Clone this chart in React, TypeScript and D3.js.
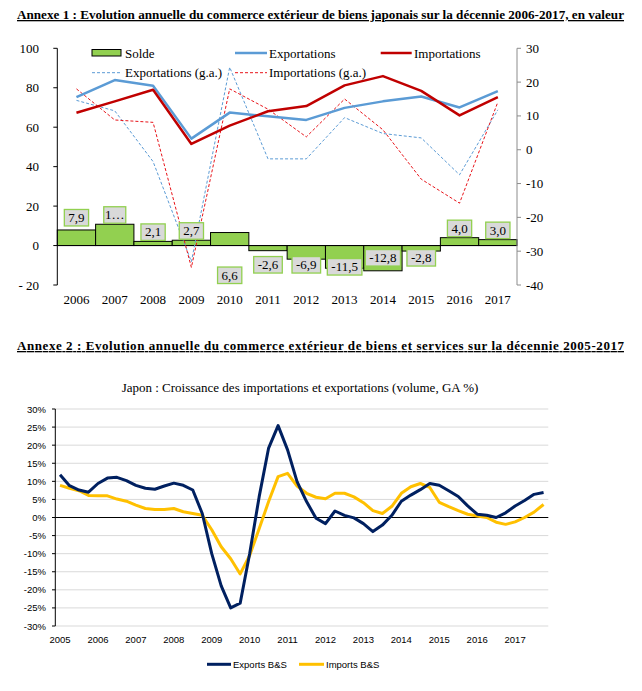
import React from "react";
import * as d3 from "d3";

// ---------- Annexe 1 data ----------
const years1 = ["2006","2007","2008","2009","2010","2011","2012","2013","2014","2015","2016","2017"];
const solde = [7.9, 10.8, 2.1, 2.7, 6.6, -2.6, -6.9, -11.5, -12.8, -2.8, 4.0, 3.0];
const soldeLabels = ["7,9","1…","2,1","2,7","6,6","-2,6","-6,9","-11,5","-12,8","-2,8","4,0","3,0"];
const exportations = [75.2, 83.9, 81.0, 54.2, 67.4, 65.5, 63.7, 69.8, 73.1, 75.6, 70.0, 78.3];
const importations = [67.3, 73.1, 79.0, 51.5, 60.8, 68.1, 70.7, 81.2, 85.9, 78.4, 66.0, 75.3];
const exportationsGA = [14.6, 11.5, -3.5, -33.1, 24.4, -2.7, -2.7, 9.5, 4.8, 3.5, -7.4, 11.8];
const importationsGA = [18.0, 8.8, 8.1, -34.8, 18.0, 12.0, 3.8, 15.0, 5.9, -8.7, -15.8, 14.1];
const leftTicks = [100, 80, 60, 40, 20, 0, -20];
const leftTickLabels = ["100","80","60","40","20","0","- 20"];
const rightTicks = [30, 20, 10, 0, -10, -20, -30, -40];

// ---------- Annexe 2 data ----------
const years2 = ["2005","2006","2007","2008","2009","2010","2011","2012","2013","2014","2015","2016","2017"];
const quarters = years2.flatMap((y) => ["T1","T2","T3","T4"].map((q) => y + q));
const exportsBS = [
  11.8, 8.8, 7.6, 7.0,
  9.4, 10.9, 11.1, 10.2,
  8.9, 8.1, 7.8, 8.7,
  9.5, 8.9, 7.6, 1.1,
  -10.0, -18.9, -25.0, -23.7,
  -10.0, 5.7, 19.2, 25.4,
  18.7, 9.9, 4.4, -0.2,
  -1.7, 1.8, 0.6, -0.1,
  -1.7, -3.9, -2.1, 0.6,
  4.5, 6.2, 7.7, 9.4,
  8.9, 7.4, 5.8, 3.2,
  0.9, 0.6, 0.0, 1.3,
  3.2, 4.7, 6.4, 6.9,
];
const importsBS = [
  8.9, 8.1, 7.4, 6.1,
  6.0, 6.0, 5.1, 4.5,
  3.4, 2.5, 2.2, 2.2,
  2.5, 1.6, 1.1, 0.6,
  -3.4, -8.1, -11.4, -15.6,
  -10.5, -3.1, 4.4, 11.3,
  12.2, 8.7, 6.7, 5.6,
  5.2, 6.7, 6.7, 5.7,
  4.1, 1.9, 1.1, 3.1,
  6.7, 8.5, 9.4, 8.3,
  4.2, 3.0, 1.9, 0.9,
  0.4, 0.0, -1.3, -1.9,
  -1.2, 0.0, 1.5, 3.6,
];
const pctTicks = [30, 25, 20, 15, 10, 5, 0, -5, -10, -15, -20, -25, -30];

// ---------- layout ----------
const SERIF = "Liberation Serif, Times New Roman, Times, serif";
const SANS = "Liberation Sans, Arial, sans-serif";
const LABEL_NUDGE = [-3, 0, 0, 0, 52, 0, 0, 2, -7, -7, 0, 0];

function measure(text: string, font: string): number {
  try {
    const c = document.createElement("canvas");
    const ctx = c.getContext("2d");
    if (ctx) { ctx.font = font; return ctx.measureText(text).width; }
  } catch (e) {}
  return text.length * 6.5;
}

export default function App() {
  const x1 = d3.scaleBand<string>().domain(years1).range([57.3, 517]).padding(0);
  const yL = d3.scaleLinear().domain([-20, 100]).range([285, 48.3]);
  const yR = d3.scaleLinear().domain([-40, 30]).range([285, 48.3]);
  const cx1 = (i: number) => (x1(years1[i]) as number) + x1.bandwidth() / 2;
  const lineL = d3.line<number>().x((_, i) => cx1(i)).y((d) => yL(d));
  const lineR = d3.line<number>().x((_, i) => cx1(i)).y((d) => yR(d));

  const x2 = d3.scaleBand<string>().domain(quarters).range([55.3, 548.3]).padding(0);
  const y2 = d3.scaleLinear().domain([-30, 30]).range([626, 409]);
  const cx2 = (i: number) => (x2(quarters[i]) as number) + x2.bandwidth() / 2;
  const line2 = d3.line<number>().x((_, i) => cx2(i)).y((d) => y2(d));

  const y0 = yL(0);

  return (
    <svg width={642} height={691} style={{ position: "absolute", left: 0, top: 0, background: "#fff" }}
      xmlns="http://www.w3.org/2000/svg">
      <rect x={0} y={0} width={642} height={691} fill="#fff" />
      <text x={17} y={19} fontFamily={SERIF} fontWeight="bold" fontSize={13} textLength={607}
        lengthAdjust="spacingAndGlyphs" textDecoration="underline">
        Annexe 1 : Evolution annuelle du commerce extérieur de biens japonais sur la décennie 2006-2017, en valeur
      </text>

      {solde.map((v, i) => (
        <rect key={"b" + i} x={x1(years1[i]) as number} width={x1.bandwidth()}
          y={Math.min(yL(v), y0)} height={Math.abs(yL(v) - y0)}
          fill="#92D050" stroke="#000" strokeWidth={1} />
      ))}
      <line x1={57.3} x2={517} y1={y0} y2={y0} stroke="#000" strokeWidth={1} />

      <line x1={57.3} x2={57.3} y1={48.3} y2={285} stroke="#000" strokeWidth={1} />
      {leftTicks.map((t, i) => (
        <g key={"lt" + i}>
          <line x1={53.3} x2={57.3} y1={yL(t)} y2={yL(t)} stroke="#000" />
          <text x={39} y={yL(t) + 4.5} textAnchor="end" fontFamily={SERIF} fontSize={13}>{leftTickLabels[i]}</text>
        </g>
      ))}
      <line x1={517} x2={517} y1={48.3} y2={285} stroke="#8c8c8c" strokeWidth={1} />
      {rightTicks.map((t, i) => (
        <g key={"rt" + i}>
          <line x1={517} x2={521} y1={yR(t)} y2={yR(t)} stroke="#8c8c8c" />
          <text x={526} y={yR(t) + 4.5} fontFamily={SERIF} fontSize={13}>{String(t)}</text>
        </g>
      ))}
      {years1.map((y, i) => (
        <text key={"yl" + i} x={cx1(i)} y={304} textAnchor="middle" fontFamily={SERIF} fontSize={13}>{y}</text>
      ))}

      <path d={lineR(exportationsGA) as string} fill="none" stroke="#5B9BD5" strokeWidth={1} strokeDasharray="3,2" />
      <path d={lineR(importationsGA) as string} fill="none" stroke="#E8141A" strokeWidth={1} strokeDasharray="3,2" />
      <path d={lineL(exportations) as string} fill="none" stroke="#5B9BD5" strokeWidth={2.5} strokeLinejoin="round" />
      <path d={lineL(importations) as string} fill="none" stroke="#C00000" strokeWidth={2.5} strokeLinejoin="round" />

      {solde.map((v, i) => {
        const txt = soldeLabels[i];
        const w = Math.min(measure(txt, "13px 'Liberation Serif'") + 8, txt.length * 7 + 8);
        const h = 16.5;
        const top = (v >= 0 ? yL(v) - 1 - h : y0 + 11) + LABEL_NUDGE[i];
        const c = cx1(i);
        return (
          <g key={"dl" + i}>
            <rect x={c - w / 2} y={top} width={w} height={h} fill="#D9D9D9" stroke="#92D050" strokeWidth={1.3} />
            <text x={c} y={top + 12.5} textAnchor="middle" fontFamily={SERIF} fontSize={13}>{txt}</text>
          </g>
        );
      })}

      <rect x={92} y={49.5} width={29} height={6.5} fill="#92D050" stroke="#000" strokeWidth={1} />
      <text x={125} y={57.5} fontFamily={SERIF} fontSize={13}>Solde</text>
      <line x1={235} x2={267} y1={53} y2={53} stroke="#5B9BD5" strokeWidth={2.5} />
      <text x={269} y={57.5} fontFamily={SERIF} fontSize={13}>Exportations</text>
      <line x1={380.7} x2={411.7} y1={53} y2={53} stroke="#C00000" strokeWidth={2.5} />
      <text x={414} y={57.5} fontFamily={SERIF} fontSize={13}>Importations</text>
      <line x1={92} x2={121.7} y1={72.7} y2={72.7} stroke="#5B9BD5" strokeWidth={1} strokeDasharray="3,2" />
      <text x={125} y={77} fontFamily={SERIF} fontSize={13}>Exportations (g.a.)</text>
      <line x1={235} x2={267} y1={72.7} y2={72.7} stroke="#E8141A" strokeWidth={1} strokeDasharray="3,2" />
      <text x={269} y={77} fontFamily={SERIF} fontSize={13}>Importations (g.a.)</text>

      <text x={17} y={350} fontFamily={SERIF} fontWeight="bold" fontSize={13} textLength={607}
        lengthAdjust="spacing" textDecoration="underline">
        Annexe 2 : Evolution annuelle du commerce extérieur de biens et services sur la décennie 2005-2017
      </text>

      <text x={300} y={392} textAnchor="middle" fontFamily={SERIF} fontSize={13}>
        Japon : Croissance des importations et exportations (volume, GA %)
      </text>

      {pctTicks.map((t, i) => (
        <g key={"g" + i}>
          {t !== 0 && <line x1={55.3} x2={548.3} y1={y2(t)} y2={y2(t)} stroke="#D9D9D9" strokeWidth={1} />}
          <line x1={52} x2={55.3} y1={y2(t)} y2={y2(t)} stroke="#000" strokeWidth={1} />
          <text x={46} y={y2(t) + 3.5} textAnchor="end" fontFamily={SANS} fontSize={9.5}>{t + "%"}</text>
        </g>
      ))}
      <line x1={55.3} x2={55.3} y1={409} y2={626} stroke="#000" strokeWidth={1} />
      <line x1={55.3} x2={548.3} y1={y2(0)} y2={y2(0)} stroke="#000" strokeWidth={1} />
      {years2.map((y, i) => (
        <text key={"y2" + i} x={cx2(i * 4)} y={642.5} textAnchor="middle" fontFamily={SANS} fontSize={9.5}>{y}</text>
      ))}
      <path d={line2(importsBS) as string} fill="none" stroke="#FFC000" strokeWidth={3} strokeLinejoin="round" />
      <path d={line2(exportsBS) as string} fill="none" stroke="#002060" strokeWidth={3} strokeLinejoin="round" />

      <line x1={207} x2={231} y1={664.3} y2={664.3} stroke="#002060" strokeWidth={3} />
      <text x={233} y={667.5} fontFamily={SANS} fontSize={9.5}>Exports B&amp;S</text>
      <line x1={299} x2={324} y1={664.3} y2={664.3} stroke="#FFC000" strokeWidth={3} />
      <text x={326} y={667.5} fontFamily={SANS} fontSize={9.5}>Imports B&amp;S</text>
    </svg>
  );
}
